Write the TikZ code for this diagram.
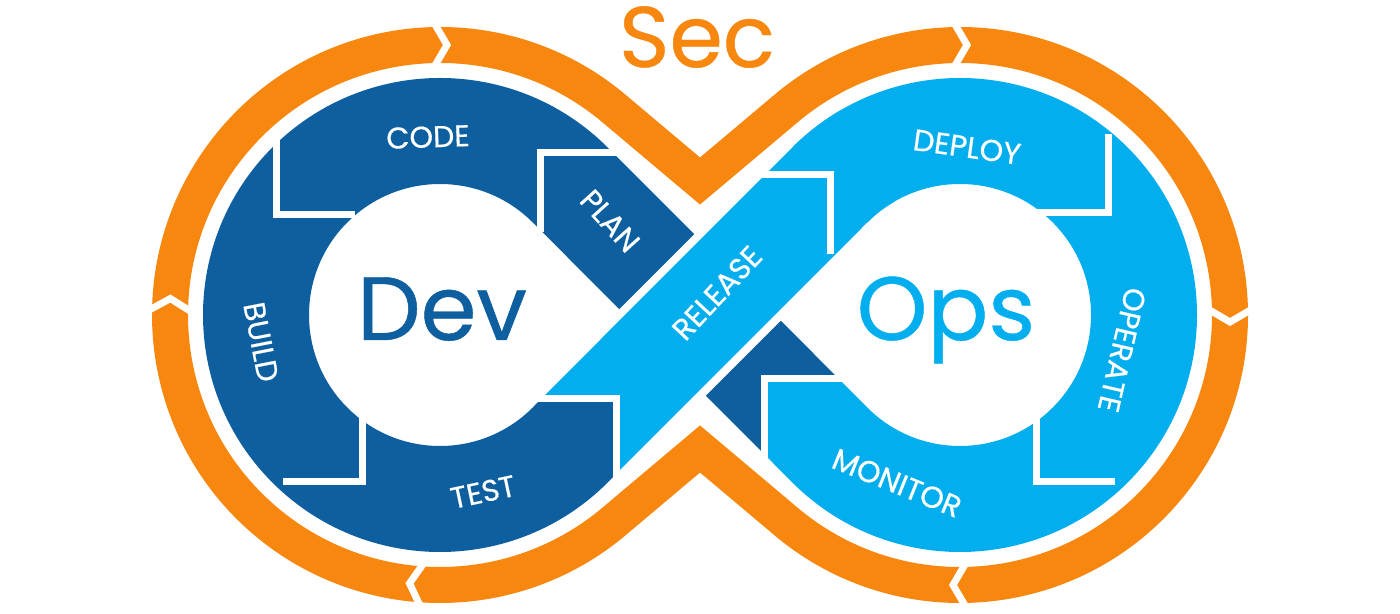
\documentclass[tikz,border=0pt]{standalone}
\usepackage{fontspec}
\setmainfont{Poppins}
\newfontfamily\medfont{Poppins}[FakeBold=0.5]
\usepackage{tikz}
\usetikzlibrary{calc}
\definecolor{devblue}{HTML}{0E5F9F}
\definecolor{opsblue}{HTML}{03AEEE}
\definecolor{secorange}{HTML}{F7870F}
\tikzset{
  secband/.style={draw=secorange,line width=18pt,line join=miter},
  devband/.style={draw=devblue,line width=53pt},
  opsband/.style={draw=opsblue,line width=53pt},
  cutline/.style={draw=white,line width=3.5pt,line join=miter},
  notchcut/.style={draw=white,line width=3.5pt,line join=miter},
  lbl/.style={text=white,font=\medfont\fontsize{15}{15}\selectfont,inner sep=0pt},
  bigword/.style={anchor=base,inner sep=0pt},
}

\begin{document}
\begin{tikzpicture}[x=0.5pt,y=0.5pt]
  \fill[white] (0,0) rectangle (1400,614);
  \useasboundingbox (0,0) rectangle (1400,614);
  \coordinate (L) at (440,299);
  \coordinate (R) at (960,299);
  \coordinate (X) at (700,299);
  \coordinate (vtest) at (616,215);
  \coordinate (vmon) at (764,235);
  % orange outer loop
  \draw[secband] ($(L)+(49.9:270)$) arc[start angle=49.9,end angle=310.1,radius=270]
    -- (700,165) -- ($(R)+(229.9:270)$) arc[start angle=229.9,end angle=490.1,radius=270]
    -- (700,433) -- cycle;
  \foreach \c/\a in {L/90,L/178,L/265,R/90,R/0,R/270}{
    \begin{scope}[shift={($(\c)+(\a:270)$)},rotate=\a-90]
      \draw[notchcut] (-7,24) -- (7,0) -- (-7,-24);
    \end{scope}
  }
  % ops loop, then dev loop with the underpass
  \draw[opsband] ($(R)+(135:184)$) arc[start angle=135,end angle=-135,radius=184]
    -- ($(vmon)+(-45:53)$);
  \draw[devband] ($(vmon)+(-45:53)$) -- ($(L)+(45:184)$)
    arc[start angle=45,end angle=315,radius=184] -- ($(vtest)+(225:53)$);
  % release over the crossing
  \draw[white,line width=61pt] ($(X)+(225:70)$) -- ($(X)+(45:70)$);
  \draw[opsband] ($(vtest)+(225:53)$) -- ($(R)+(135:184)$)
    arc[start angle=135,end angle=120,radius=184];
  \begin{scope}[shift={(vtest)},rotate=45]
    \fill[devblue] (0,0) -- (-53,53) -- (-57,53) -- (-57,-53) -- (-53,-53) -- cycle;
  \end{scope}
  \begin{scope}[shift={(vmon)},rotate=135]
    \fill[opsblue] (0,0) -- (-53,53) -- (-57,53) -- (-57,-53) -- (-53,-53) -- cycle;
  \end{scope}
  % segment cuts
  \foreach \vx/\vy/\d in {540/461/135,276/399/225,362/132/315,616/215/45,
                          830/439/45,1108/401/315,1036/132/225,764/235/135}{
    \begin{scope}[shift={(\vx,\vy)},rotate=\d]
      \draw[cutline] (-56,56) -- (0,0) -- (-56,-56);
    \end{scope}
  }
  % words
  \node[bigword,text=secorange,font=\medfont\fontsize{43}{43}\selectfont] (sec) at (697,547) {Sec};
  \node[bigword,text=devblue,font=\medfont\fontsize{45}{45}\selectfont] (dev) at (442,274) {Dev};
  \node[bigword,text=opsblue,font=\medfont\fontsize{45}{45}\selectfont] (ops) at (946,274) {Ops};
  \node[lbl,rotate=2] (code) at (428,477) {CODE};
  \node[lbl,rotate=-48] (plan) at (610,393) {PLAN};
  \node[lbl,rotate=-79] (build) at (261,272) {BUILD};
  \node[lbl,rotate=12] (test) at (483,122) {TEST};
  \node[lbl,rotate=47] (release) at (717,321) {RELEASE};
  \node[lbl,rotate=-8] (deploy) at (967,467) {DEPLOY};
  \node[lbl,rotate=-103] (operate) at (1122,264) {OPERATE};
  \node[lbl,rotate=-22] (monitor) at (897,131) {MONITOR};
\end{tikzpicture}
\end{document}
